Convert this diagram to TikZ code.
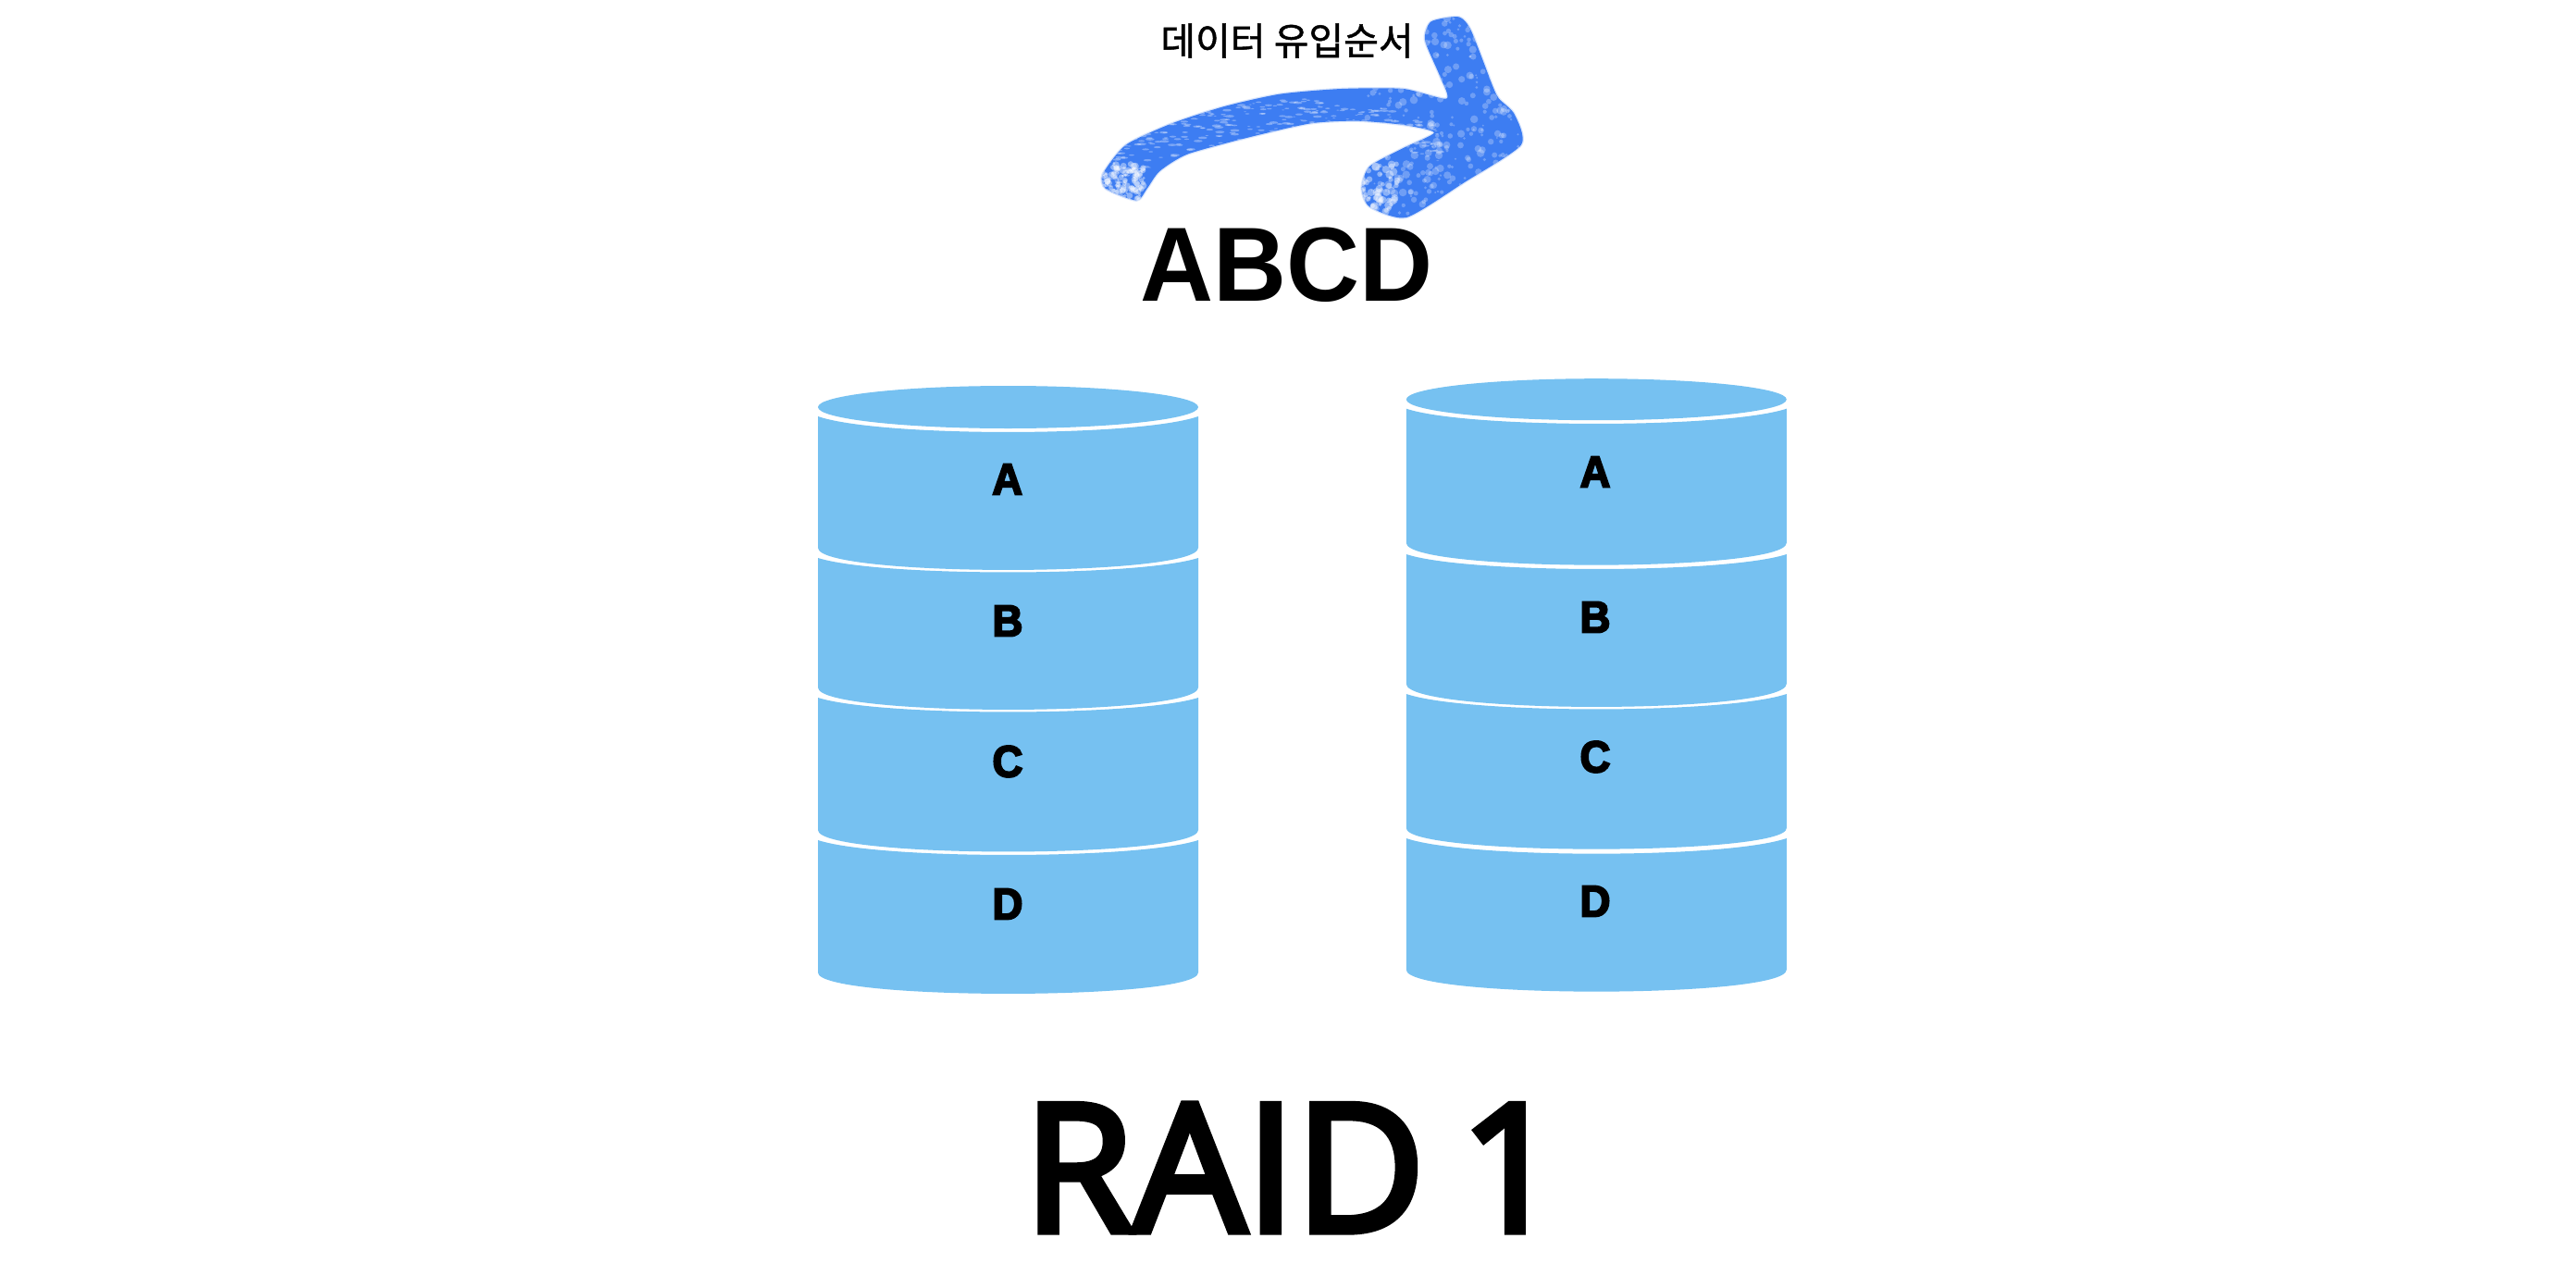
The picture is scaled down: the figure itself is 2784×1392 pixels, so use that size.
\documentclass[tikz,border=0pt]{standalone}
\usepackage{fontspec}
\setmainfont{Liberation Sans}
\newfontfamily\krfont[FakeBold=1.2]{Noto Sans CJK KR}
\newfontfamily\titlefont[FakeBold=4,FakeStretch=1.0]{Open Sans}
\newfontfamily\abcdfont[FakeStretch=0.96]{Liberation Sans}
\newfontfamily\labelfont[FakeBold=4,FakeStretch=0.95]{Liberation Sans}
\definecolor{disk}{HTML}{76C1F1}
\definecolor{brush}{HTML}{3D7DF2}
\tikzset{
  x=1pt,y=-1pt,
  disk fill/.style={fill=disk,draw=none},
  disk label/.style={font=\labelfont\bfseries\fontsize{48}{48}\selectfont,text=black,inner sep=0pt,anchor=center},
  big title/.style={font=\titlefont\fontsize{192}{192}\selectfont,text=black,inner sep=0pt,anchor=center},
  data title/.style={font=\abcdfont\bfseries\fontsize{114}{114}\selectfont,text=black,inner sep=0pt,anchor=center},
  order label/.style={font=\krfont\fontsize{41}{41}\selectfont,text=black,inner sep=0pt,anchor=center},
  brush stroke/.style={fill=brush,draw=none},
}
% #1 centre x, #2 top side y, #3 top apex y, #4 bottom side y, #5 bottom apex y
\newcommand{\diskband}[5]{%
  \path[disk fill] (#1-205.5,#2)
    .. controls (#1-140,{#2+(#3-#2)*1.33}) and (#1+140,{#2+(#3-#2)*1.33}) .. (#1+205.5,#2)
    -- (#1+205.5,#4)
    .. controls (#1+205.5,{#4+(#5-#4)*1.33}) and (#1-205.5,{#4+(#5-#4)*1.33}) .. (#1-205.5,#4) -- cycle;}
\newcommand{\brushoutline}{plot[smooth cycle,tension=0.4] coordinates {
 (125,565) (200,470) (350,400) (520,345) (700,305) (900,288) (1100,288) (1240,320)
 (1220,250) (1170,130) (1190,70) (1280,55) (1320,100) (1390,280) (1410,320) (1460,370)
 (1482,470) (1300,590) (1110,705) (990,670) (965,610) (990,540) (1100,480) (1200,430)
 (1100,405) (950,392) (800,400) (600,445) (400,500) (310,555) (270,610) (235,650) (135,612)}}
\begin{document}
\begin{tikzpicture}
\useasboundingbox (0,0) rectangle (2784,1392);
\fill[white] (0,0) rectangle (2784,1392);
% left disk
\fill[disk fill] (1089.5,440) ellipse [x radius=205.5,y radius=23];
\diskband{1089.5}{450}{467}{592}{616}
\diskband{1089.5}{603}{618.5}{743}{767}
\diskband{1089.5}{754}{769.5}{897}{920.5}
\diskband{1089.5}{908}{924}{1051}{1074}
\node[disk label] (la) at (1088.7,518) {A};
\node[disk label] (lb) at (1089,671) {B};
\node[disk label] (lc) at (1089,823) {C};
\node[disk label] (ld) at (1089,977) {D};
% right disk
\fill[disk fill] (1725.3,431.7) ellipse [x radius=205.5,y radius=22.5];
\diskband{1725.3}{441.7}{458}{586.7}{610.7}
\diskband{1725.3}{599}{615}{739}{764}
\diskband{1725.3}{750}{766.5}{895}{917.7}
\diskband{1725.3}{906}{922.7}{1048}{1071.7}
\node[disk label] (ra) at (1724,510) {A};
\node[disk label] (rb) at (1724,667) {B};
\node[disk label] (rc) at (1724,818) {C};
\node[disk label] (rd) at (1724,974) {D};
% brush arrow, coordinates in thirds of a pixel
\begin{scope}[shift={(1150,0)},x=0.3333pt,y=-0.3333pt]
\draw[brush,opacity=0.2,line width=2.5pt,line join=round] \brushoutline;
\begin{scope}
\clip \brushoutline;
\path[brush stroke] (100,40) rectangle (1500,720);
\pgfmathsetseed{4127}
% specks along the shaft
\foreach \i in {1,...,300}{
  \pgfmathsetmacro{\t}{rnd}
  \pgfmathsetmacro{\sx}{140+1080*\t}
  \pgfmathsetmacro{\sy}{600-640*\t+510*\t*\t+(rnd-0.5)*120-45*(1-\t)}
  \pgfmathsetmacro{\sr}{2+5*rnd}
  \fill[white,opacity=0.32] (\sx,\sy) ellipse [x radius=\sr*2.2,y radius=\sr*0.6];
}
% blotches on the head
\foreach \i in {1,...,420}{
  \pgfmathsetmacro{\sx}{960+530*rnd}
  \pgfmathsetmacro{\sy}{50+660*rnd}
  \pgfmathsetmacro{\sr}{3+10*rnd}
  \fill[white,opacity=0.26] (\sx,\sy) circle [radius=\sr];
}
% feathered edges of the head
\foreach \i in {1,...,60}{
  \pgfmathsetmacro{\sx}{960+120*rnd}
  \pgfmathsetmacro{\sy}{530+170*rnd}
  \pgfmathsetmacro{\sr}{5+9*rnd}
  \fill[white,opacity=0.4] (\sx,\sy) circle [radius=\sr];
}
% feathered tail
\foreach \i in {1,...,130}{
  \pgfmathsetmacro{\sx}{120+140*rnd}
  \pgfmathsetmacro{\sy}{530+130*rnd}
  \pgfmathsetmacro{\sr}{4+8*rnd}
  \fill[white,opacity=0.4] (\sx,\sy) circle [radius=\sr];
}
\end{scope}
\end{scope}
\node[order label] (order) at (1391,44) {데이터 유입순서};
\node[data title] (data) at (1391,286) {ABCD};
\node[big title] (raid) at (1397,1262) {RAID\hspace{-12pt} 1};
\end{tikzpicture}
\end{document}
